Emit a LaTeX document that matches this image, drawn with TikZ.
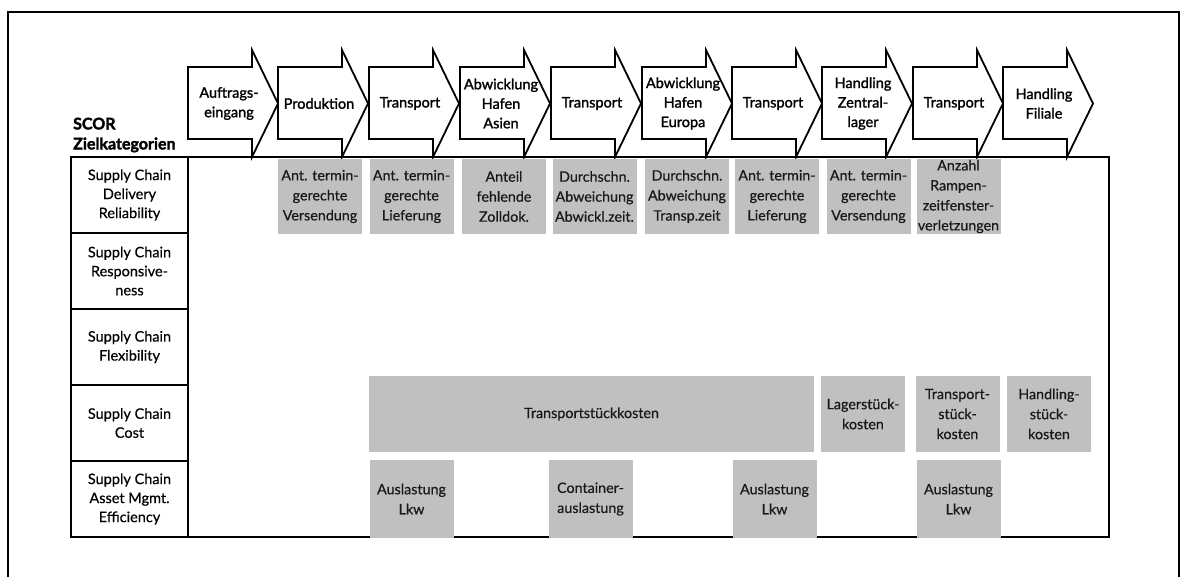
\documentclass[tikz,border=0pt]{standalone}
\usepackage{fontspec}
\setmainfont{Lato}[FakeBold=0.5]
\newfontfamily\medfont[FakeBold=1.5]{Lato}
\newfontfamily\heavyfont[FakeBold=2]{Lato Bold}
\definecolor{kpigray}{RGB}{192,192,192}
\definecolor{kpitext}{RGB}{25,25,25}

\tikzset{
  outerframe/.style={line width=1.6pt},
  procarrow/.style={draw, line width=1.8pt, fill=white, line join=miter},
  proclabel/.style={font=\medfont\fontsize{14.5}{19.5}\selectfont, align=center, inner sep=0pt},
  gridbox/.style={draw, line width=2.5pt, inner sep=0pt},
  catbox/.style={draw, line width=2.3pt, inner sep=0pt, minimum width=117, minimum height=76,
    align=center, font=\fontsize{14.5}{19}\selectfont},
  headlabel/.style={font=\heavyfont\fontsize{16}{20}\selectfont, align=left, inner sep=0pt, anchor=west},
  kpi/.style={fill=kpigray, text=kpitext, inner sep=0pt, align=center,
    font=\fontsize{14.3}{20}\selectfont, minimum width=84},
  kpitop/.style={kpi, minimum height=75},
  kpicost/.style={kpi, minimum height=76},
  kpiasset/.style={kpi, minimum height=78},
}

% one process step: name, left edge, label
\newcommand\procstep[3]{%
  \draw[procarrow] (#2,67) -- ++(64,0) -- ++(0,-17) -- ++(26,53.5) -- ++(-26,53.5)
    -- ++(0,-18) -- ++(-64,0) -- cycle;
  \node[proclabel] (#1) at (#2+41,103.5) {#3};
}

\begin{document}
\begin{tikzpicture}[x=1pt,y=-1pt]
\useasboundingbox (0,0) rectangle (1187,577);

% surrounding frame, open at the bottom
\draw[outerframe] (8,577) -- (8,12) -- (1179,12) -- (1179,577);

% matrix area and category column
\node[gridbox, minimum width=921, minimum height=380] (grid) at (648.5,347) {};
\node[catbox] (rel)  at (129.5,195) {Supply Chain\\Delivery\\Reliability};
\node[catbox] (resp) at (129.5,271) {Supply Chain\\Responsive-\\ness};
\node[catbox] (flex) at (129.5,347) {Supply Chain\\Flexibility};
\node[catbox] (cost) at (129.5,423) {Supply Chain\\Cost};
\node[catbox] (asset) at (129.5,499) {Supply Chain\\Asset Mgmt.\\Efficiency};

\node[headlabel] (scor) at (73,135) {SCOR\\Zielkategorien};

% process chain
\procstep{p1}{188}{Auftrags-\\eingang}
\procstep{p2}{278}{Produktion}
\procstep{p3}{369}{Transport}
\procstep{p4}{460}{Abwicklung\\Hafen\\Asien}
\procstep{p5}{551}{Transport}
\procstep{p6}{642}{Abwicklung\\Hafen\\Europa}
\procstep{p7}{732}{Transport}
\procstep{p8}{822}{Handling\\Zentral-\\lager}
\procstep{p9}{913}{Transport}
\procstep{p10}{1003}{Handling\\Filiale}

% delivery reliability
\node[kpitop] (k1) at (320,196.5)   {Ant. termin-\\gerechte\\Versendung};
\node[kpitop] (k2) at (411.5,196.5) {Ant. termin-\\gerechte\\Lieferung};
\node[kpitop] (k3) at (504,196.5)   {Anteil\\fehlende\\Zolldok.};
\node[kpitop] (k4) at (594.5,196.5) {Durchschn.\\Abweichung\\Abwickl.zeit.};
\node[kpitop] (k5) at (687,196.5)   {Durchschn.\\Abweichung\\Transp.zeit};
\node[kpitop] (k6) at (777,196.5)   {Ant. termin-\\gerechte\\Lieferung};
\node[kpitop] (k7) at (868.5,196.5) {Ant. termin-\\gerechte\\Versendung};
\node[kpitop] (k8) at (958.5,196.5) {Anzahl\\Rampen-\\zeitfenster-\\verletzungen};

% cost
\node[kpicost, minimum width=445] (c1) at (591.5,414) {Transportstückkosten};
\node[kpicost] (c2) at (863,414)    {Lagerstück-\\kosten};
\node[kpicost] (c3) at (957.5,414)  {Transport-\\stück-\\kosten};
\node[kpicost] (c4) at (1049,414)   {Handling-\\stück-\\kosten};

% asset management efficiency
\node[kpiasset] (a1) at (411.5,499) {Auslastung\\Lkw};
\node[kpiasset] (a2) at (590.5,499) {Container-\\auslastung};
\node[kpiasset] (a3) at (774.5,499) {Auslastung\\Lkw};
\node[kpiasset] (a4) at (958.5,499) {Auslastung\\Lkw};
\end{tikzpicture}
\end{document}
